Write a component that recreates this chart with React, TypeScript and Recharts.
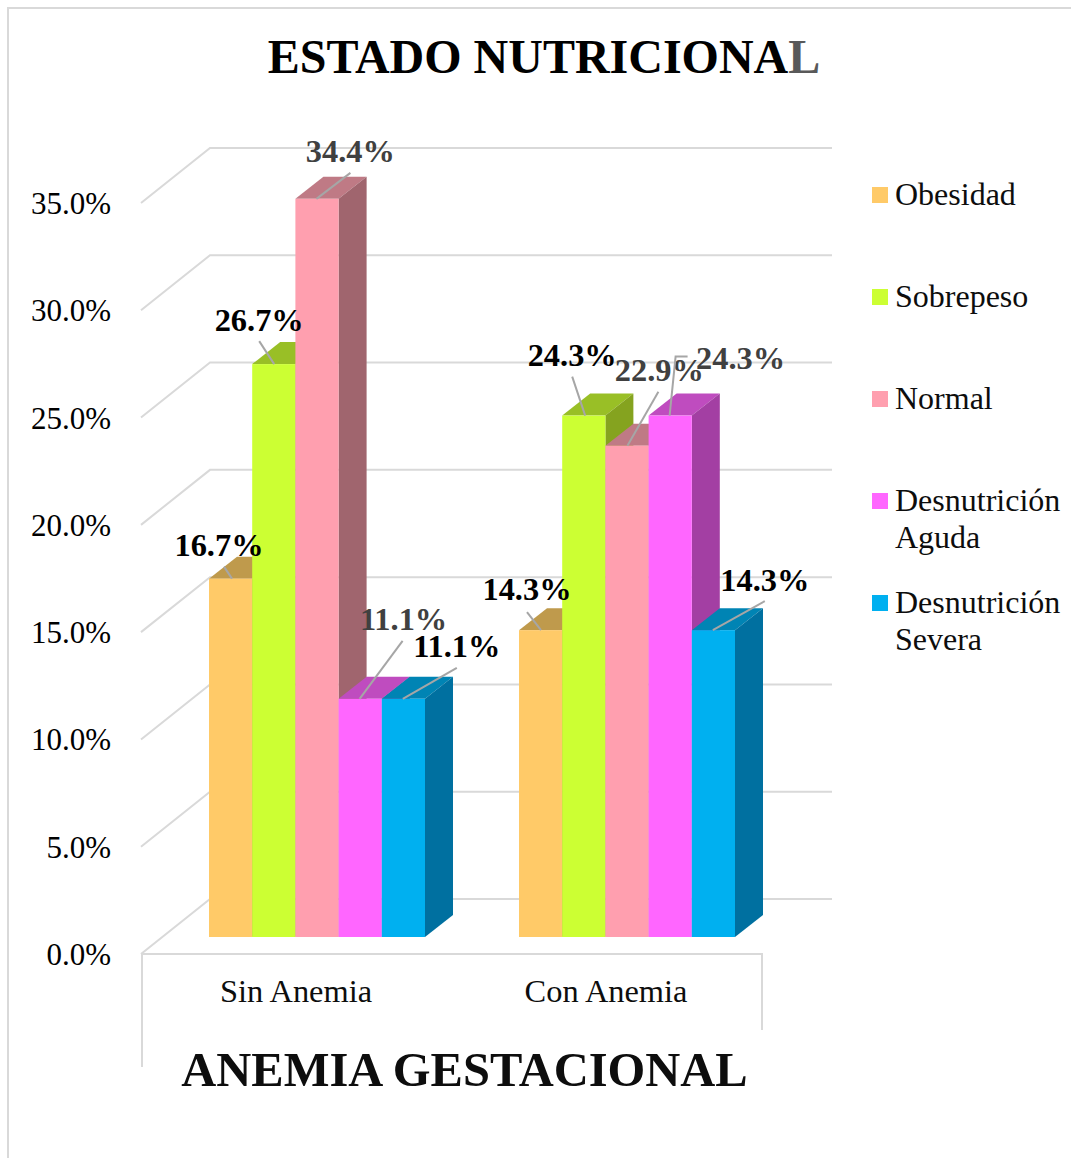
import { BarChart, Bar, XAxis, YAxis, Legend, LabelList, CartesianGrid } from "recharts";

const categories = ["Sin Anemia", "Con Anemia"];
const obesidad = [16.7, 14.3];
const sobrepeso = [26.7, 24.3];
const normal = [34.4, 22.9];
const desnAguda = [11.1, 24.3];
const desnSevera = [11.1, 14.3];
const yTicks = [0, 5, 10, 15, 20, 25, 30, 35];

const data = categories.map((name, i) => ({
  name,
  obesidad: obesidad[i],
  sobrepeso: sobrepeso[i],
  normal: normal[i],
  desnAguda: desnAguda[i],
  desnSevera: desnSevera[i],
}));

const FONT = "'Liberation Serif', 'Times New Roman', serif";
const GRID = "#D9D9D9";
const DEPTH_X = 28;
const DEPTH_Y = 22;

// label placement relative to the bar's top-left corner: [text dx, text dy, leader points]
const labelSpots: Record<string, [number, number, number[][]][]> = {
  obesidad: [
    [10, -23, [[23, 0], [15, -12]]],
    [8, -30, [[22, 0], [8, -18]]],
  ],
  sobrepeso: [
    [7, -33, [[22, 0], [7, -23]]],
    [10, -50, [[23, 0], [10, -39]]],
  ],
  normal: [
    [55, -37, [[21, 0], [55, -26]]],
    [54, -65, [[22, 0], [53, -54]]],
  ],
  desnAguda: [
    [65, -69, [[21, 0], [64, -58]]],
    [92, -47, [[21, 0], [27, -59], [39, -59]]],
  ],
  desnSevera: [
    [75, -42, [[21, 0], [75, -31]]],
    [73, -39, [[21, 0], [73, -29]]],
  ],
};

const series = [
  { key: "obesidad", name: "Obesidad", fill: "#FFCA68", top: "#BF9A4C", side: "#A38345", text: "#000000" },
  { key: "sobrepeso", name: "Sobrepeso", fill: "#CCFF33", top: "#99BF26", side: "#85A31F", text: "#000000" },
  { key: "normal", name: "Normal", fill: "#FF9FAF", top: "#BF7A85", side: "#A0656E", text: "#404040" },
  { key: "desnAguda", name: "Desnutrición Aguda", fill: "#FF66FF", top: "#BF4CBF", side: "#A33FA3", text: "#404040" },
  { key: "desnSevera", name: "Desnutrición Severa", fill: "#00B0F0", top: "#0084B4", side: "#0070A0", text: "#000000" },
];

function Bar3D(props: any, top: string, side: string) {
  const { x, y, width, height, fill } = props;
  const r = x + width;
  const b = y + height;
  return (
    <g>
      <polygon points={`${x},${y} ${x + DEPTH_X},${y - DEPTH_Y} ${r + DEPTH_X},${y - DEPTH_Y} ${r},${y}`} fill={top} />
      <polygon points={`${r},${y} ${r + DEPTH_X},${y - DEPTH_Y} ${r + DEPTH_X},${b - DEPTH_Y} ${r},${b}`} fill={side} />
      <rect x={x} y={y} width={width} height={height} fill={fill} />
    </g>
  );
}

// floor line of the 3D box: comes forward from the back wall to the axis
function WallLine(props: any) {
  const y = props.y1;
  return (
    <polyline
      key={props.key ?? y}
      points={`141,${y + 17} 210,${y - 38} 832,${y - 38}`}
      fill="none"
      stroke={GRID}
      strokeWidth={2}
    />
  );
}

function YTick({ y, payload }: any) {
  const frontY = y + 17;
  return (
    <g>
      {payload.value === 0 && (
        <polyline points={`142,1067 142,${frontY} 762,${frontY} 762,1030`} fill="none" stroke={GRID} strokeWidth={2} />
      )}
      <text x={111} y={y + 28} textAnchor="end" fontFamily={FONT} fontSize={31} fill="#000000">
        {payload.value.toFixed(1)}%
      </text>
    </g>
  );
}

function XTick({ x, payload }: any) {
  return (
    <text x={x - 21} y={1002} textAnchor="middle" fontFamily={FONT} fontSize={32.4} fill="#0D0D0D">
      {payload.value}
    </text>
  );
}

function makeLabel(key: string, color: string) {
  return function BarLabel({ x, y, index, value }: any) {
    const [dx, dy, line] = labelSpots[key][index];
    const pts = line.map((p) => `${x + p[0]},${y + p[1]}`).join(" ");
    return (
      <g>
        <polyline points={pts} fill="none" stroke="#A6A6A6" strokeWidth={2} />
        <text x={x + dx} y={y + dy} textAnchor="middle" fontFamily={FONT} fontSize={32.4} fontWeight="bold" fill={color}>
          {Number(value).toFixed(1)}%
        </text>
      </g>
    );
  };
}

function LegendBox({ payload }: any) {
  return (
    <div style={{ fontFamily: FONT, fontSize: 32, lineHeight: "37px", color: "#0D0D0D" }}>
      {(payload ?? []).map((item: any) => (
        <div key={item.value} style={{ height: 102, display: "flex" }}>
          <span style={{ width: 16, height: 16, marginTop: 11, marginRight: 7, background: item.color, flex: "none" }} />
          <span style={{ width: 175 }}>{item.value}</span>
        </div>
      ))}
    </div>
  );
}

export default function App() {
  return (
    <div style={{ position: "absolute", left: 0, top: 0, width: 1071, height: 1158, overflow: "hidden", background: "#fff" }}>
      <div style={{ position: "absolute", left: 7, top: 7, width: 1064, height: 1151, borderLeft: `2px solid ${GRID}`, borderTop: `2px solid ${GRID}` }} />
      <div style={{ position: "absolute", left: 0, width: 1088, top: 33, textAlign: "center", fontFamily: FONT, fontSize: 48, lineHeight: 1, fontWeight: "bold", color: "#000", whiteSpace: "nowrap" }}>
        ESTADO NUTRICIONA<span style={{ color: "#595959" }}>L</span>
      </div>
      <div style={{ position: "absolute", left: 0, width: 929, top: 1046, textAlign: "center", fontFamily: FONT, fontSize: 48.5, lineHeight: 1, fontWeight: "bold", color: "#0D0D0D", whiteSpace: "nowrap" }}>
        ANEMIA GESTACIONAL
      </div>
      <BarChart
        width={1071}
        height={1158}
        data={data}
        margin={{ top: 186, right: 289, bottom: 161, left: 0 }}
        barGap={0}
        barSize={43.2}
        style={{ position: "absolute", left: 0, top: 0 }}
      >
        <CartesianGrid vertical={false} horizontal={WallLine} syncWithTicks horizontalValues={yTicks} />
        <YAxis width={162} domain={[0, 35]} ticks={yTicks} interval={0} axisLine={false} tickLine={false} tick={YTick} />
        <XAxis dataKey="name" height={60} axisLine={false} tickLine={false} tick={XTick} />
        <Legend
          layout="vertical"
          align="center"
          verticalAlign="middle"
          itemSorter={null}
          content={LegendBox}
          wrapperStyle={{ position: "absolute", left: 872, top: 176, width: 199, margin: 0 }}
        />
        {series.map((s) => (
          <Bar
            key={s.key}
            dataKey={s.key}
            name={s.name}
            fill={s.fill}
            isAnimationActive={false}
            shape={(p: any) => Bar3D(p, s.top, s.side)}
          >
            <LabelList dataKey={s.key} content={makeLabel(s.key, s.text)} />
          </Bar>
        ))}
      </BarChart>
    </div>
  );
}
